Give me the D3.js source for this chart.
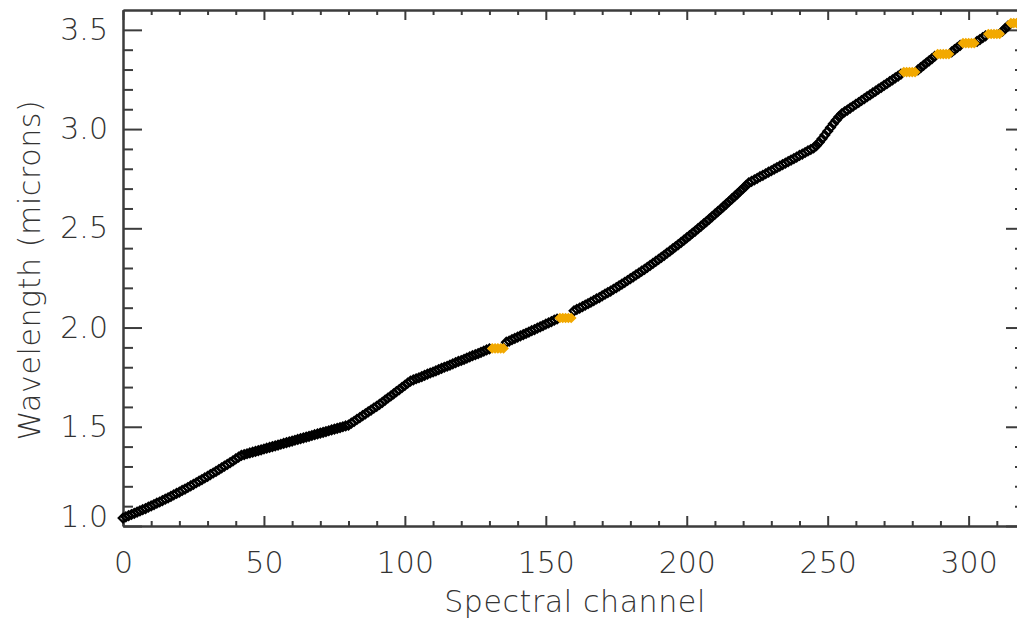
<!DOCTYPE html>
<meta charset="utf-8">
<title>Wavelength vs spectral channel</title>
<style>
body { margin: 0; background: #fff; }
text { font-family: "DejaVu Sans", sans-serif; fill: #333; font-weight: 300; }
.axis path, .axis line { stroke: #3c3c3c; stroke-width: 2; }
</style>
<svg width="1017" height="618"></svg>
<script src="https://d3js.org/d3.v7.min.js"></script>
<script>

// wavelength (microns) of each spectral channel 0..319
var wavelength = [
  1.040,1.046,1.052,1.058,1.064,1.070,1.076,1.082,1.088,1.095,
  1.101,1.108,1.115,1.121,1.128,1.135,1.142,1.149,1.157,1.164,
  1.171,1.179,1.186,1.194,1.202,1.210,1.218,1.226,1.234,1.242,
  1.250,1.259,1.267,1.275,1.284,1.293,1.302,1.310,1.319,1.328,
  1.338,1.347,1.356,1.360,1.364,1.368,1.372,1.376,1.380,1.384,
  1.388,1.392,1.396,1.400,1.404,1.408,1.412,1.416,1.420,1.424,
  1.428,1.432,1.436,1.440,1.444,1.448,1.452,1.456,1.460,1.464,
  1.468,1.472,1.476,1.480,1.484,1.488,1.492,1.496,1.500,1.504,
  1.508,1.518,1.527,1.537,1.546,1.556,1.565,1.575,1.584,1.594,
  1.603,1.613,1.623,1.634,1.645,1.655,1.666,1.677,1.687,1.698,
  1.709,1.720,1.730,1.736,1.742,1.747,1.753,1.759,1.765,1.771,
  1.776,1.782,1.788,1.794,1.800,1.805,1.811,1.817,1.823,1.829,
  1.834,1.840,1.846,1.852,1.858,1.863,1.869,1.875,1.881,1.887,
  1.893,1.895,1.895,1.895,1.895,1.895,1.926,1.932,1.939,1.945,
  1.952,1.958,1.964,1.971,1.977,1.984,1.990,1.997,2.003,2.010,
  2.017,2.023,2.030,2.037,2.043,2.048,2.048,2.048,2.048,2.048,
  2.084,2.091,2.098,2.105,2.113,2.120,2.128,2.136,2.144,2.151,
  2.160,2.168,2.176,2.184,2.193,2.201,2.210,2.219,2.228,2.237,
  2.246,2.255,2.265,2.274,2.284,2.293,2.303,2.313,2.323,2.333,
  2.343,2.354,2.364,2.375,2.385,2.396,2.407,2.418,2.429,2.440,
  2.452,2.463,2.475,2.486,2.498,2.510,2.522,2.534,2.546,2.559,
  2.571,2.584,2.596,2.609,2.622,2.635,2.648,2.661,2.674,2.688,
  2.701,2.715,2.729,2.737,2.744,2.752,2.760,2.767,2.775,2.783,
  2.790,2.798,2.806,2.813,2.821,2.828,2.836,2.844,2.851,2.859,
  2.867,2.874,2.882,2.890,2.897,2.905,2.917,2.933,2.951,2.970,
  2.989,3.008,3.027,3.045,3.062,3.077,3.087,3.096,3.106,3.115,
  3.125,3.134,3.144,3.153,3.163,3.172,3.182,3.191,3.201,3.210,
  3.220,3.229,3.239,3.248,3.258,3.267,3.277,3.287,3.287,3.287,
  3.287,3.287,3.298,3.310,3.321,3.333,3.344,3.355,3.367,3.378,
  3.378,3.378,3.378,3.378,3.389,3.400,3.411,3.422,3.433,3.433,
  3.433,3.433,3.433,3.442,3.451,3.461,3.470,3.479,3.479,3.479,
  3.479,3.479,3.493,3.507,3.520,3.534,3.534,3.534,3.534,3.534
];

// channels drawn in orange
var flagged = [131,132,133,134,135, 155,156,157,158,159,
  277,278,279,280,281, 289,290,291,292,293, 298,299,300,301,302,
  307,308,309,310,311, 315,316,317,318,319];

var xTicks = [0, 50, 100, 150, 200, 250, 300];
var yTicks = [1.0, 1.5, 2.0, 2.5, 3.0, 3.5];

var svg = d3.select("svg");

var x = d3.scaleLinear().domain([0, 320]).range([123, 1025]);
var y = d3.scaleLinear().domain([1.0, 3.6]).range([526, 10]);

var xMinor = d3.range(0, 321, 10).filter(function(d) { return d % 50; });
var yMinor = d3.range(10, 36).map(function(d) { return d / 10; }).filter(function(d) { return Math.round(d * 10) % 5; });

function noLabel() { return ""; }

// bottom
svg.append("g").attr("class", "axis").attr("transform", "translate(0,526)")
  .call(d3.axisBottom(x).tickValues(xTicks).tickSize(-10).tickSizeOuter(0).tickPadding(26).tickFormat(d3.format("d")))
  .call(function(g) { g.selectAll("text").attr("font-size", 30).attr("font-family", null); });
svg.append("g").attr("class", "axis").attr("transform", "translate(0,526)")
  .call(d3.axisBottom(x).tickValues(xMinor).tickSize(-5).tickSizeOuter(0).tickFormat(noLabel));
// top
svg.append("g").attr("class", "axis").attr("transform", "translate(0,10)")
  .call(d3.axisTop(x).tickValues(xTicks).tickSize(-10).tickSizeOuter(0).tickFormat(noLabel));
svg.append("g").attr("class", "axis").attr("transform", "translate(0,10)")
  .call(d3.axisTop(x).tickValues(xMinor).tickSize(-5).tickSizeOuter(0).tickFormat(noLabel));
// left
svg.append("g").attr("class", "axis").attr("transform", "translate(123,0)")
  .call(d3.axisLeft(y).tickValues(yTicks).tickSize(-19).tickSizeOuter(0).tickPadding(15).tickFormat(d3.format(".1f")))
  .call(function(g) {
    g.selectAll("text").attr("font-size", 30).attr("font-family", null);
    // the lowest label sits a little above its tick
    g.selectAll("text").filter(function(d) { return d === 1.0; }).attr("y", -9);
  });
svg.append("g").attr("class", "axis").attr("transform", "translate(123,0)")
  .call(d3.axisLeft(y).tickValues(yMinor).tickSize(-10).tickSizeOuter(0).tickFormat(noLabel));
// right
svg.append("g").attr("class", "axis").attr("transform", "translate(1025,0)")
  .call(d3.axisRight(y).tickValues(yTicks).tickSize(-19).tickSizeOuter(0).tickFormat(noLabel));
svg.append("g").attr("class", "axis").attr("transform", "translate(1025,0)")
  .call(d3.axisRight(y).tickValues(yMinor).tickSize(-10).tickSizeOuter(0).tickFormat(noLabel));

svg.selectAll(".axis text").attr("fill", "#333");

// diamond marker
var r = 4.3;
function diamond(cx, cy) {
  return "M" + cx + "," + (cy - r) + "L" + (cx + r) + "," + cy + "L" + cx + "," + (cy + r) + "L" + (cx - r) + "," + cy + "Z";
}

var points = wavelength.map(function(w, i) { return {ch: i, w: w}; });

svg.append("g").selectAll("path")
  .data(points.filter(function(d) { return flagged.indexOf(d.ch) < 0; }))
  .enter().append("path")
    .attr("d", function(d) { return diamond(x(d.ch), y(d.w)); })
    .attr("fill", "none")
    .attr("stroke", "#000")
    .attr("stroke-width", 2.2);

svg.append("g").selectAll("path")
  .data(points.filter(function(d) { return flagged.indexOf(d.ch) >= 0; }))
  .enter().append("path")
    .attr("d", function(d) { return diamond(x(d.ch), y(d.w)); })
    .attr("fill", "#f2a900")
    .attr("stroke", "#f2a900")
    .attr("stroke-width", 1.5);

svg.append("text")
  .attr("x", 575).attr("y", 612)
  .attr("text-anchor", "middle")
  .attr("font-size", 30)
  .attr("letter-spacing", 0.6)
  .text("Spectral channel");

svg.append("text")
  .attr("transform", "translate(40,270) rotate(-90)")
  .attr("text-anchor", "middle")
  .attr("font-size", 30)
  .attr("letter-spacing", 0.6)
  .text("Wavelength (microns)");

</script>
